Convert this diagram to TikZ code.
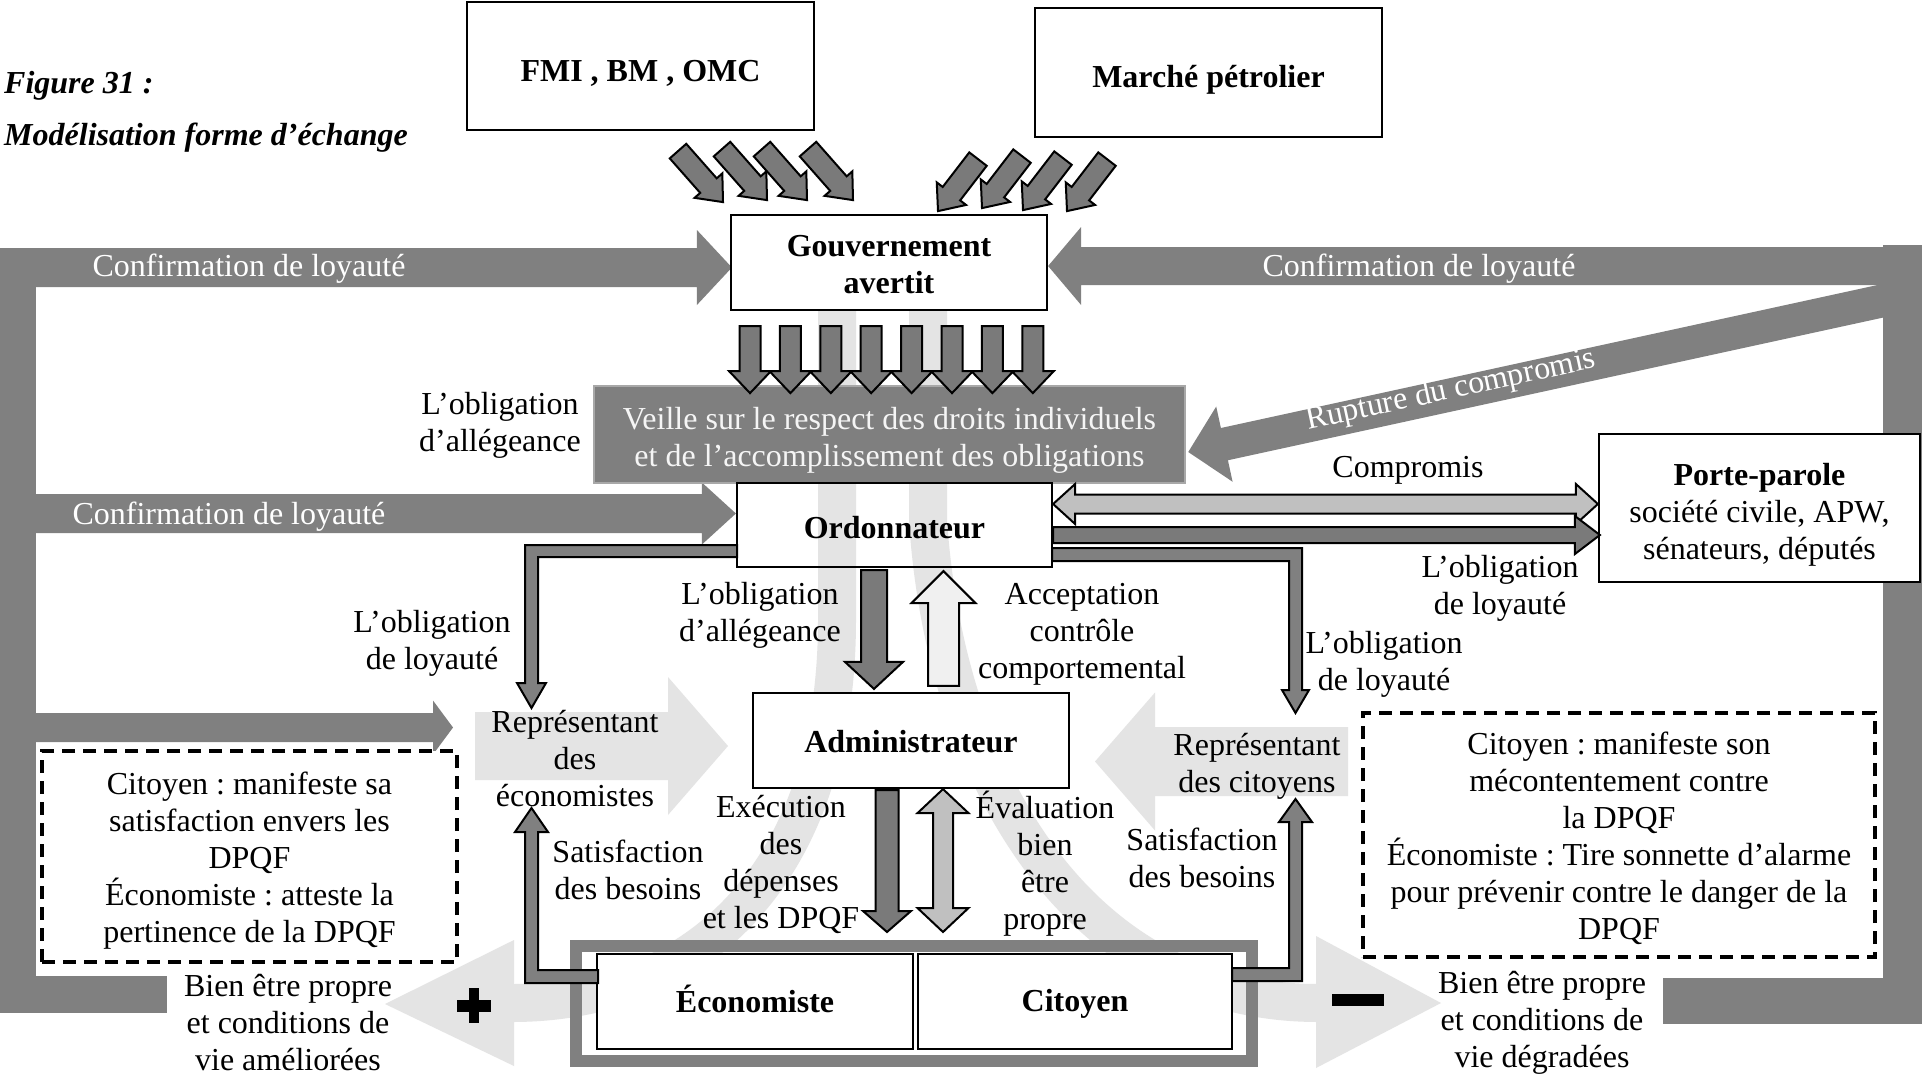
\documentclass[tikz,border=0pt]{standalone}
\usepackage{fontspec}
\setmainfont{Liberation Serif}
\frenchspacing
\usetikzlibrary{calc}
\definecolor{bandgray}{HTML}{808080}
\definecolor{lightband}{HTML}{E4E4E4}
\definecolor{darkfill}{HTML}{7A7A7A}
\definecolor{midfill}{HTML}{C0C0C0}
\definecolor{palefill}{HTML}{F0F0F0}
\definecolor{veilleborder}{HTML}{A8A8A8}
\definecolor{veillefill}{HTML}{7F7F7F}
\pgfdeclarelayer{background}
\pgfsetlayers{background,main}
% #1 style, #2 tail, #3 tip, #4 half shaft, #5 half head, #6 head length
\newcommand{\fatarrow}[6]{%
  \coordinate (faB) at ($(#3)!#6!(#2)$);
  \path[#1] ($(#2)!#4!90:(#3)$) -- ($(faB)!#4!90:(#3)$) -- ($(faB)!#5!90:(#3)$) -- (#3)
    -- ($(faB)!#5!-90:(#3)$) -- ($(faB)!#4!-90:(#3)$) -- ($(#2)!#4!-90:(#3)$) -- cycle;
}
\newcommand{\fatdarrow}[6]{%
  \coordinate (faP) at ($(#2)!#6!(#3)$);
  \coordinate (faQ) at ($(#3)!#6!(#2)$);
  \path[#1] (#2) -- ($(faP)!#5!90:(#3)$) -- ($(faP)!#4!90:(#3)$) -- ($(faQ)!#4!-90:(#2)$)
    -- ($(faQ)!#5!-90:(#2)$) -- (#3) -- ($(faQ)!#5!90:(#2)$) -- ($(faQ)!#4!90:(#2)$)
    -- ($(faP)!#4!-90:(#3)$) -- ($(faP)!#5!-90:(#3)$) -- cycle;
}
\begin{document}
\begin{tikzpicture}[x=1pt,y=-1pt,
  lbl/.style={font=\fontsize{32}{37}\selectfont, align=center, inner sep=0pt},
  wlbl/.style={lbl, text=white},
  btxt/.style={lbl, font=\fontsize{32}{37}\selectfont\bfseries},
  boxst/.style={draw=black, line width=2.2, inner sep=0pt},
  dashbox/.style={draw=black, line width=4.5, dash pattern=on 13pt off 8pt, fill=white, inner sep=0pt},
  bigband/.style={fill=bandgray},
  ghost/.style={fill=lightband},
  conn/.style={fill=bandgray, draw=black, line width=2},
  darkarr/.style={fill=darkfill, draw=black, line width=2},
  midarr/.style={fill=midfill, draw=black, line width=2},
  palearr/.style={fill=palefill, draw=black, line width=2},
]
\useasboundingbox (0,0) rectangle (1922,1077);

% ---------- boxes ----------
\node[boxst, fill=white, minimum width=347, minimum height=128] (fmi) at (640.5,66) {};
\node[boxst, fill=white, minimum width=347, minimum height=129] (mar) at (1208.5,72.5) {};
\node[boxst, fill=white, minimum width=316, minimum height=95] (gov) at (889,262.5) {};
\node[draw=veilleborder, line width=2.5, fill=veillefill, minimum width=591, minimum height=97, inner sep=0pt] (veille) at (889.5,434.5) {};
\node[boxst, minimum width=315, minimum height=84] (ord) at (894.5,525) {};
\node[boxst, fill=white, minimum width=321, minimum height=148] (porte) at (1759.5,508) {};
\node[boxst, fill=white, minimum width=316, minimum height=95] (adm) at (911,740.5) {};
\node[draw=bandgray, line width=12, minimum width=676, minimum height=115] (frame) at (914,1003.5) {};
\node[boxst, fill=white, minimum width=316, minimum height=95] (eco) at (755,1001.5) {};
\node[boxst, fill=white, minimum width=314, minimum height=95] (cit) at (1075,1001.5) {};
\node[dashbox, minimum width=415, minimum height=211] (dleft) at (249.5,856.5) {};
\node[dashbox, minimum width=512, minimum height=244] (dright) at (1619,835) {};

% ---------- background shapes ----------
\begin{pgfonlayer}{background}
\fill[white] (0,0) rectangle (1922,1077);
% light curved arrows
\draw[lightband, line width=38] (837,290) -- (837,620) .. controls (837,870) and (700,1003) .. (512,1003);
\path[ghost] (514,940) -- (385,1004) -- (514,1066) -- cycle;
\draw[lightband, line width=38] (928,290) -- (928,520) .. controls (945,780) and (1080,1003) .. (1318,1003);
\path[ghost] (1316,936) -- (1441,1003) -- (1316,1068) -- cycle;
% light representant arrows
\coordinate (reT) at (475,746); \coordinate (reH) at (728,746);
\fatarrow{ghost}{reT}{reH}{34pt}{69pt}{60pt}
\coordinate (rcT) at (1348,761.5); \coordinate (rcH) at (1095,761.5);
\fatarrow{ghost}{rcT}{rcH}{34.5pt}{69pt}{60pt}
% left frame
\path[bigband] (0,248) rectangle (36,1013);
\path[bigband] (0,976) rectangle (167,1013);
\coordinate (lt1) at (0,267.5); \coordinate (lh1) at ($(gov.west)+(2,5)$);
\fatarrow{bigband}{lt1}{lh1}{19.5pt}{37.5pt}{35pt}
\coordinate (lt2) at (30,513.5); \coordinate (lh2) at ($(ord.west)+(0,-11.5)$);
\fatarrow{bigband}{lt2}{lh2}{19.5pt}{31pt}{34pt}
\coordinate (lt3) at (30,727.5); \coordinate (lh3) at (453,727.5);
\fatarrow{bigband}{lt3}{lh3}{14.5pt}{27pt}{20pt}
% right frame
\path[bigband] (1883,245) rectangle (1922,1024);
\path[bigband] (1663,978) rectangle (1922,1024);
\coordinate (rt1) at (1890,266); \coordinate (rh1) at ($(gov.east)+(0,3.5)$);
\fatarrow{bigband}{rt1}{rh1}{19pt}{39pt}{33pt}
\coordinate (rupT) at (1900,297); \coordinate (rupH) at ($(veille.east)+(2,17.5)$);
\fatarrow{bigband}{rupT}{rupH}{16.5pt}{38.5pt}{37pt}
\end{pgfonlayer}

% ---------- small diagonal arrows ----------
\foreach \dx/\dy in {37.5/20, 81.5/18, 121.5/18, 167.5/18}{
  \coordinate (st) at ($(fmi.south)+(\dx,\dy)$);
  \coordinate (sh) at ($(st)+(45,51)$);
  \fatarrow{darkarr}{st}{sh}{11pt}{18.5pt}{22pt}
}
\foreach \dx/\dy in {-230.5/21, -186.5/18, -145.5/20, -101.5/21}{
  \coordinate (mt) at ($(mar.south)+(\dx,\dy)$);
  \coordinate (mh) at ($(mt)+(-40,52)$);
  \fatarrow{darkarr}{mt}{mh}{11pt}{18.5pt}{22pt}
}
% ---------- eight down arrows ----------
\foreach \k in {0,...,7}{
  \coordinate (dt) at ($(gov.south)+({-139+40.4*\k},15)$);
  \coordinate (dh) at ($(gov.south)+({-139+40.4*\k},82)$);
  \fatarrow{darkarr}{dt}{dh}{10.5pt}{21pt}{22pt}
}

% ---------- connectors ----------
\coordinate (oa1) at ($(ord.south)+(-20.5,2)$); \coordinate (oa2) at ($(adm.north)+(-37,-3)$);
\fatarrow{darkarr}{oa1}{oa2}{13pt}{29pt}{27pt}
\coordinate (ac1) at ($(adm.north)+(32.5,-6)$); \coordinate (ac2) at ($(ord.south)+(49,3)$);
\fatarrow{palearr}{ac1}{ac2}{15.5pt}{32pt}{32pt}
\coordinate (ex1) at ($(adm.south)+(-24,1)$); \coordinate (ex2) at ($(frame.north)+(-27,-8)$);
\fatarrow{darkarr}{ex1}{ex2}{11.5pt}{24pt}{21pt}
\coordinate (ev1) at ($(adm.south)+(32,0)$); \coordinate (ev2) at ($(frame.north)+(29,-8)$);
\fatdarrow{midarr}{ev1}{ev2}{10pt}{25.5pt}{24pt}
\coordinate (cp1) at ($(ord.east)+(0,-21)$); \coordinate (cp2) at ($(porte.west)+(0,-4)$);
\fatdarrow{midarr}{cp1}{cp2}{9.5pt}{20pt}{22pt}
\coordinate (ol1) at ($(ord.east)+(0,10)$); \coordinate (ol2) at ($(porte.west)+(2,27)$);
\fatarrow{darkarr}{ol1}{ol2}{8pt}{19pt}{25pt}
% L-shaped connectors
\path[conn] (737,545) -- (525,545) -- (525,683) -- (517,683) -- (531.5,708) -- (546,683) -- (538,683) -- (538,557) -- (737,557) -- cycle;
\path[conn] (1052,548) -- (1302,548) -- (1302,690) -- (1309,690) -- (1295.5,713) -- (1282,690) -- (1289,690) -- (1289,561) -- (1052,561) -- cycle;
\path[conn] (598,970) -- (538,970) -- (538,832) -- (548,832) -- (531.5,808) -- (515,832) -- (525,832) -- (525,983) -- (598,983) -- cycle;
\path[conn] (1232,968) -- (1289,968) -- (1289,822) -- (1279,822) -- (1295.5,799) -- (1312,822) -- (1302,822) -- (1302,981) -- (1232,981) -- cycle;

% plus and minus
\fill (457,1000) rectangle (491,1012);
\fill (469,988) rectangle (479,1023);
\fill (1332,994) rectangle (1384,1006);

% ---------- texts ----------
\node[btxt] (tfmi) at (640.5,73.3) {FMI , BM , OMC};
\node[btxt] (tmar) at (1208.5,79.8) {Marché pétrolier};
\node[btxt] (tgov) at (889,264.4) {Gouvernement\\avertit};
\node[lbl, text=white!96!black] (tveille) at (889.5,440.6) {Veille sur le respect des droits individuels\\et de l’accomplissement des obligations};
\node[btxt] (tord) at (894.5,527.5) {Ordonnateur};
\node[lbl] (tporte) at (1759.5,514.5) {\textbf{Porte-parole}\\société civile, APW,\\sénateurs, députés};
\node[btxt] (tadm) at (911,741.7) {Administrateur};
\node[btxt] (teco) at (755,999) {Économiste};
\node[btxt] (tcit) at (1075,1004) {Citoyen};
\node[lbl] (tdl) at (249.5,860.2) {Citoyen : manifeste sa\\satisfaction envers les\\DPQF\\Économiste : atteste la\\pertinence de la DPQF};
\node[lbl] (tdr) at (1619,838.7) {Citoyen : manifeste son\\mécontentement contre\\la DPQF\\Économiste : Tire sonnette d’alarme\\pour prévenir contre le danger de la\\DPQF};
\node[anchor=west, font=\fontsize{32}{37}\selectfont\bfseries\itshape, inner sep=0pt] (fig) at (4,86) {Figure 31 :};
\node[anchor=west, font=\fontsize{32}{37}\selectfont\bfseries\itshape, inner sep=0pt] (figt) at (4,138) {Modélisation forme d’échange};
\node[wlbl] (cf1) at (249,268.7) {Confirmation de loyauté};
\node[wlbl] (cf2) at (1419,268.7) {Confirmation de loyauté};
\node[wlbl] (cf3) at (229,517) {Confirmation de loyauté};
\node[wlbl, rotate=12.2] (rup) at (1451,391) {Rupture du compromis};
\node[lbl] (l1) at (500,425.5) {L’obligation\\d’allégeance};
\node[lbl] (lcomp) at (1408,470.7) {Compromis};
\node[lbl] (l2) at (1500,588.5) {L’obligation\\de loyauté};
\node[lbl] (l3) at (432,643.5) {L’obligation\\de loyauté};
\node[lbl] (l4) at (760,615.5) {L’obligation\\d’allégeance};
\node[lbl] (l5) at (1082,634.7) {Acceptation\\contrôle\\comportemental};
\node[lbl] (l6) at (1384,664.5) {L’obligation\\de loyauté};
\node[lbl] (repeco) at (575,758.5) {Représentant\\des\\économistes};
\node[lbl] (repcit) at (1257,766.7) {Représentant\\des citoyens};
\node[lbl] (l7) at (628,870) {Satisfaction\\des besoins};
\node[lbl] (l8) at (781,864.5) {Exécution\\des\\dépenses\\et les DPQF};
\node[lbl] (l9) at (1045,863.2) {Évaluation\\bien\\être\\propre};
\node[lbl] (l10) at (1202,858) {Satisfaction\\des besoins};
\node[lbl] (l11) at (288,1023) {Bien être propre\\et conditions de\\vie améliorées};
\node[lbl] (l12) at (1542,1023) {Bien être propre\\et conditions de\\vie dégradées};
\end{tikzpicture}
\end{document}
